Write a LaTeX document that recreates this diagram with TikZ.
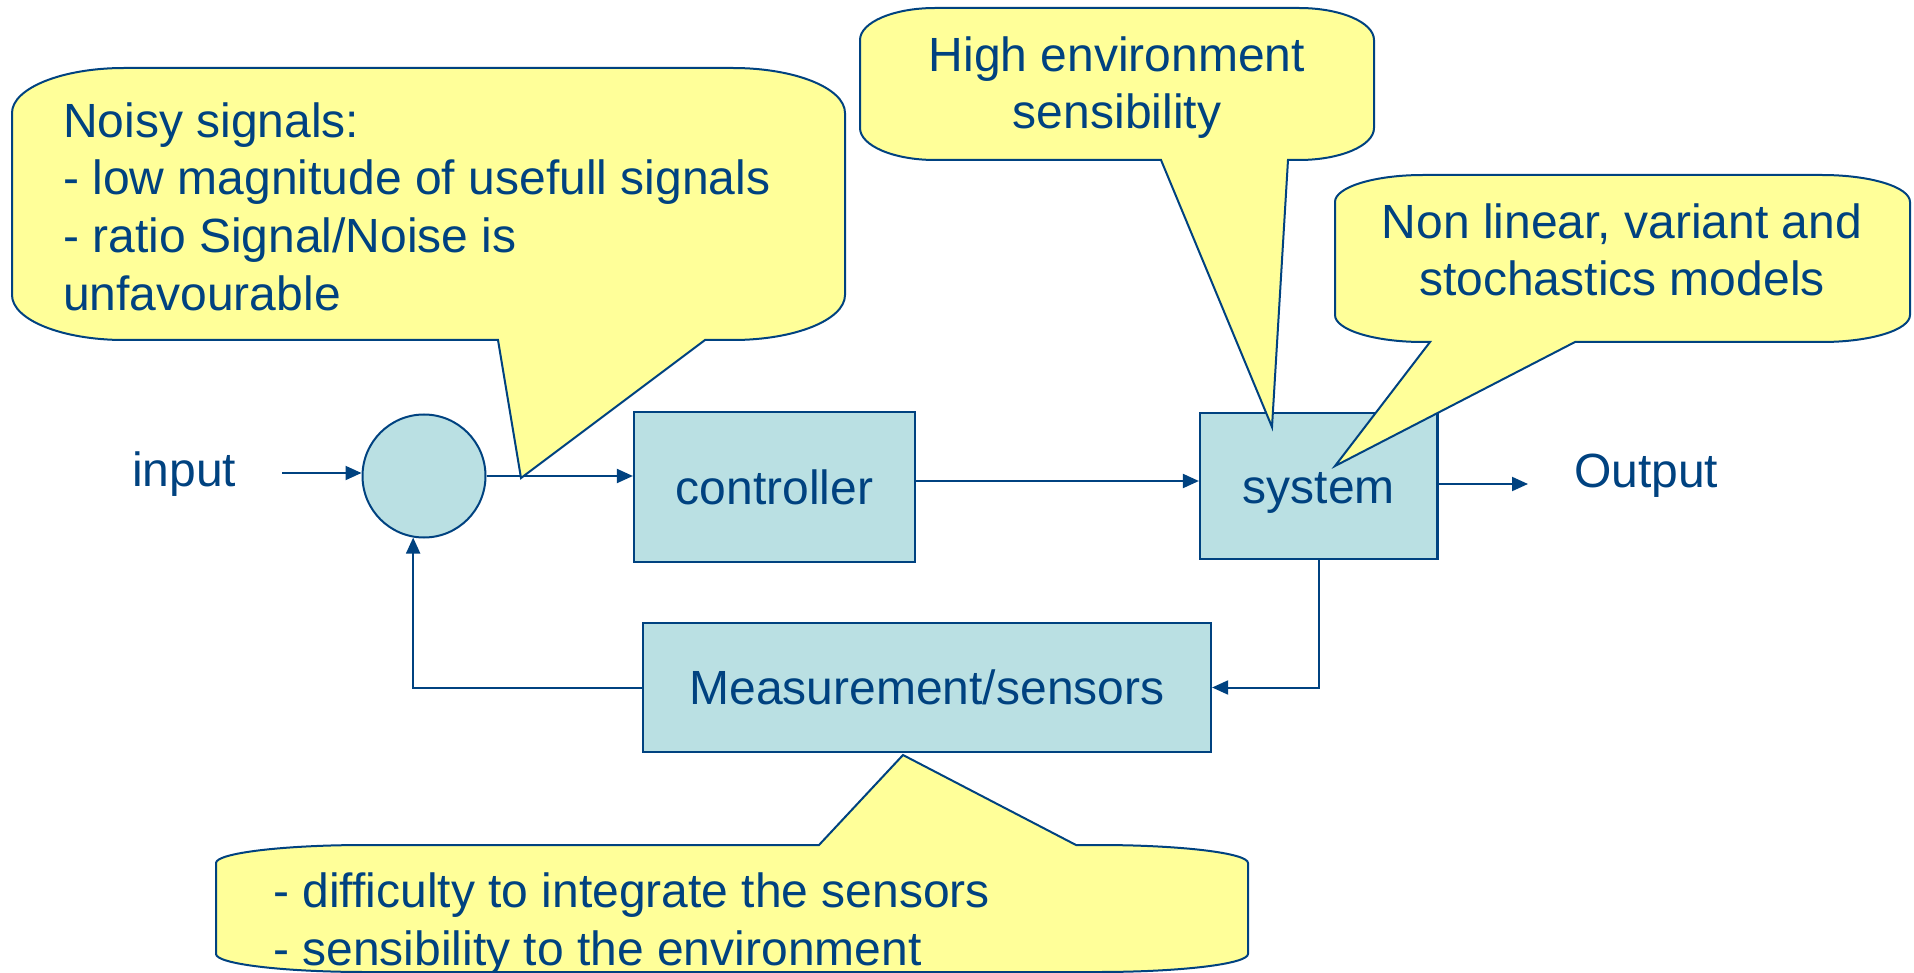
\documentclass[tikz,border=0pt]{standalone}
\usepackage{fontspec}
\setmainfont{Liberation Sans}
\usetikzlibrary{arrows.meta}
\definecolor{ink}{RGB}{0,66,128}
\definecolor{boxfill}{RGB}{186,224,227}
\definecolor{noteyellow}{RGB}{255,255,153}
\newcommand{\dgfont}{\fontsize{48pt}{57.8pt}\selectfont}
% L T R B rx ry top-edge-snippet bottom-edge-snippet
\newcommand\calloutshape[8]{%
 \draw[callout] ({#1+#5},#2) #7 -- ({#3-#5},#2)
   .. controls ({#3-0.4477*#5},#2) and (#3,{#2+0.4477*#6}) .. (#3,{#2+#6})
   -- (#3,{#4-#6})
   .. controls (#3,{#4-0.4477*#6}) and ({#3-0.4477*#5},#4) .. ({#3-#5},#4)
   #8 -- ({#1+#5},#4)
   .. controls ({#1+0.4477*#5},#4) and (#1,{#4-0.4477*#6}) .. (#1,{#4-#6})
   -- (#1,{#2+#6})
   .. controls (#1,{#2+0.4477*#6}) and ({#1+0.4477*#5},#2) .. cycle;}
\begin{document}
\begin{tikzpicture}[x=1pt,y=-1pt,
  box/.style={draw=ink, fill=boxfill, line width=2.2pt, inner sep=0pt, text=ink,
              font=\dgfont, text height=34pt, text depth=0pt},
  sumnode/.style={draw=ink, fill=boxfill, line width=2pt, circle, inner sep=0pt, minimum size=123pt},
  lbl/.style={text=ink, font=\dgfont, inner sep=0pt},
  note/.style={text=ink, font=\dgfont, inner sep=0pt},
  callout/.style={draw=ink, fill=noteyellow, line width=2pt, line join=miter},
  conn/.style={draw=ink, line width=2pt},
  arr/.style={conn, -{Triangle[length=16pt,width=14pt]}}]
\useasboundingbox (0,0) rectangle (1914,973);
\clip (0,0) rectangle (1914,973);

% blocks
\node[sumnode] (sum) at (424,476) {};
\node[box, minimum width=281pt, minimum height=150pt] (ctrl) at (774.5,487) {controller};
\node[box, minimum width=237.5pt, minimum height=146pt] (sys) at (1318.75,486) {system};
\node[box, minimum width=568pt, minimum height=129pt] (meas) at (927,687.5) {Measurement/sensors};

\node[lbl, anchor=base west] (in) at (132,486) {input};
\node[lbl, anchor=base west] (out) at (1574,487) {Output};

% connectors
\coordinate (inS) at (282,473);
\coordinate (cs) at (0,481);
\coordinate (os) at (1528,484);
\draw[arr] (inS) -- (inS -| sum.west);
\draw[arr] (sum.east) -- (sum.east -| ctrl.west);
\draw[arr] (ctrl.east |- cs) -- (sys.west |- cs);
\draw[arr] (sys.east |- os) -- (os);
\draw[arr] (sys.south) |- (meas.east);
\draw[arr] (meas.west) -| (sum.-100);

% callouts
\calloutshape{12}{68}{845}{340}{112}{45}{}{-- (705,340) -- (521,478) -- (498,340)}
\calloutshape{860}{8}{1374}{160}{75}{32}{}{-- (1288,160) -- (1272,427) -- (1161,160)}
\calloutshape{1335}{175}{1910}{342}{88}{27}{}{-- (1575,342) -- (1335,466) -- (1430,342)}
\calloutshape{216}{845}{1248}{972}{150}{18}{-- (819,845) -- (903,755) -- (1076,845)}{}

% multi-line notes: base anchor = baseline of the last line
\node[note, align=left, anchor=base west] (n1) at (63,310.5)
  {Noisy signals:\\- low magnitude of usefull signals\\- ratio Signal/Noise is\\unfavourable};
\node[note, align=center, anchor=base] (n2) at (1117,129) {High environment\\sensibility};
\node[note, align=center, anchor=base] (n3) at (1622,296) {Non linear, variant and\\stochastics models};
\node[note, align=left, anchor=base west] (n4) at (273,965)
  {- difficulty to integrate the sensors\\- sensibility to the environment};
\end{tikzpicture}
\end{document}
